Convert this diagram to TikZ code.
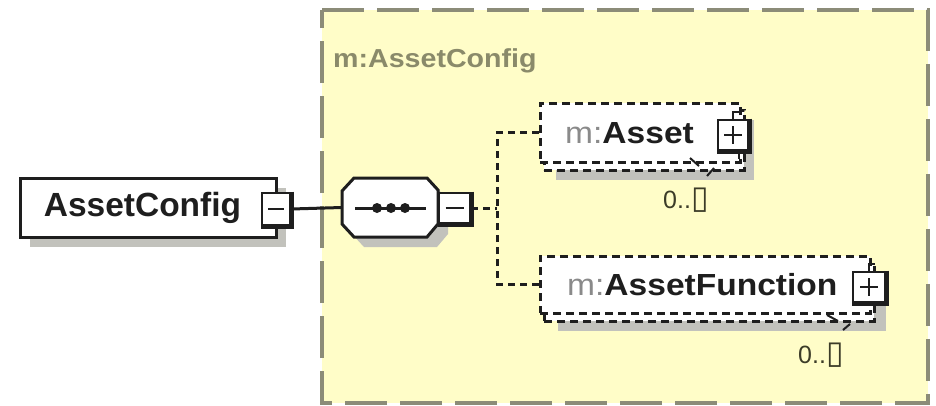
\documentclass[tikz,border=0pt]{standalone}
\usepackage{fontspec}
\setmainfont{Liberation Sans}
\newfontfamily\lblfont[FakeStretch=1.1]{Liberation Sans}
\newfontfamily\symfont{DejaVu Sans}
\usetikzlibrary{calc}
\definecolor{bgyellow}{HTML}{FFFDC8}
\definecolor{outerc}{HTML}{8C8C78}
\definecolor{lblc}{HTML}{8A8A6A}
\definecolor{shadowc}{HTML}{C2C2BC}
\definecolor{prefixc}{HTML}{8A8A8A}
\definecolor{inkc}{HTML}{1E1E1E}
\definecolor{occc}{HTML}{3C3C28}
\begin{document}
\begin{tikzpicture}[x=1pt,y=-1pt,
  solidbox/.style={draw=inkc, line width=3pt, fill=white, inner sep=0pt},
  dashbox/.style={draw=inkc, line width=3pt, fill=white, dash pattern=on 8pt off 5pt, inner sep=0pt},
  btn/.style={draw=inkc, line width=2.6pt, fill=white, inner sep=0pt},
  btnedge/.style={draw=inkc, line width=4.5pt},
  btnsign/.style={draw=inkc, line width=2.6pt},
  shadowfill/.style={fill=shadowc},
  conn/.style={draw=inkc, line width=3pt},
  dconn/.style={conn, dash pattern=on 7pt off 5pt},
  stub/.style={draw=inkc, line width=2pt},
  occ/.style={text=occc, font=\fontsize{25}{28}\selectfont, inner sep=0pt, anchor=base west},
  childlbl/.style={text=inkc, font=\lblfont\fontsize{30.5}{36}\selectfont, inner sep=0pt, anchor=base west},
]
\useasboundingbox (0,0) rectangle (936,405);
\fill[white] (0,0) rectangle (936,405);
% outer group
\fill[bgyellow] (322,10) rectangle (928,403);
\draw[outerc, line width=3.2pt, dash pattern=on 42pt off 13pt] (322,10) -- (928,10) -- (928,403) -- (322,403) -- cycle;
\node[anchor=base west, text=lblc, font=\lblfont\bfseries\fontsize{26}{30}\selectfont, inner sep=0pt] (title) at (333,67) {m:AssetConfig};

% AssetConfig element
\fill[shadowfill] (30,188) rectangle (286,247);
\node[solidbox, minimum width=256pt, minimum height=59pt] (ac) at (148,207.5) {};
\node[text=inkc, font=\bfseries\fontsize{33.5}{40}\selectfont, inner sep=0pt] (actext) at (142.5,208) {AssetConfig};
\node[btn, minimum width=28pt, minimum height=32pt] (acbtn) at (276,209) {};
\draw[btnedge] (acbtn.north east) -- (acbtn.south east) -- (acbtn.south west);
\draw[btnsign] ($(acbtn.center)+(-8,0)$) -- ($(acbtn.center)+(8,0)$);

% sequence compositor
\fill[shadowfill] (364,188) -- (437,188) -- (448,200) -- (448,234) -- (437,247) -- (364,247) -- (352,234) -- (352,201) -- cycle;
\node[minimum width=96pt, minimum height=59pt, inner sep=0pt] (seq) at (390,207.5) {};
\filldraw[fill=white, draw=inkc, line width=3pt] (354,178) -- (427,178) -- (438,190) -- (438,224) -- (427,237) -- (354,237) -- (342,224) -- (342,191) -- cycle;
\draw[conn] (355,208) -- (426,208);
\fill[inkc] (377,208) circle (5pt) (391,208) circle (5pt) (405,208) circle (5pt);
\node[btn, minimum width=31pt, minimum height=30pt] (seqbtn) at (454.5,208) {};
\draw[btnedge] (seqbtn.north east) -- (seqbtn.south east) -- (seqbtn.south west);
\draw[btnsign] ($(seqbtn.center)+(-9,0)$) -- ($(seqbtn.center)+(9,0)$);

\draw[conn] (acbtn.east) -- (seq.west);
\coordinate (bus) at (497,208);

% Asset element
\fill[shadowfill] (556,120) rectangle (754,180);
\node[dashbox, minimum width=200pt, minimum height=60pt] (assetback) at (644,140) {};
\node[dashbox, minimum width=200pt, minimum height=59pt] (asset) at (640,132.5) {};
\node[childlbl] (assettext) at (565,143) {{\color{prefixc}m:}\bfseries Asset};
\node[btn, minimum width=30pt, minimum height=30pt] (assetbtn) at (733,135) {};
\draw[btnedge] (assetbtn.north east) -- (assetbtn.south east) -- (assetbtn.south west);
\draw[btnsign] ($(assetbtn.center)+(-9,0)$) -- ($(assetbtn.center)+(9,0)$);
\draw[btnsign] ($(assetbtn.center)+(0,-9)$) -- ($(assetbtn.center)+(0,9)$);
\draw[stub] (assetbtn.north) -- ++(0,-7) -- ++(6,0);
\draw[stub] (assetbtn.south) ++(6,0) -- ++(0,8);
\draw[stub] (690,158) -- (699,166);
\draw[stub] (707,176) -- (714,168);
\node[occ] (assetocc) at (663,208) {0..{\symfont\fontsize{32}{32}\selectfont ▯}};

% AssetFunction element
\fill[shadowfill] (558,274) rectangle (886,331);
\node[dashbox, minimum width=330pt, minimum height=57pt] (afback) at (709,292.5) {};
\node[dashbox, minimum width=330pt, minimum height=57pt] (af) at (705,284.5) {};
\node[childlbl] (aftext) at (567,295) {{\color{prefixc}m:}\bfseries AssetFunction};
\node[btn, minimum width=32pt, minimum height=30pt] (afbtn) at (869,287) {};
\draw[btnedge] (afbtn.north east) -- (afbtn.south east) -- (afbtn.south west);
\draw[btnsign] ($(afbtn.center)+(-9,0)$) -- ($(afbtn.center)+(9,0)$);
\draw[btnsign] ($(afbtn.center)+(0,-9)$) -- ($(afbtn.center)+(0,9)$);
\draw[stub] (afbtn.north) -- ++(0,-7) -- ++(6,0);
\draw[stub] (afbtn.south) ++(6,0) -- ++(0,8);
\draw[stub] (827,315) -- (838,321);
\draw[stub] (843,330) -- (850,324);
\node[occ] (afocc) at (798,363) {0..{\symfont\fontsize{32}{32}\selectfont ▯}};

% connectors
\draw[dconn] (seqbtn.east) -- (bus);
\draw[dconn] (asset.west) -| (bus);
\draw[dconn] (af.west) -| (bus);
\end{tikzpicture}
\end{document}
